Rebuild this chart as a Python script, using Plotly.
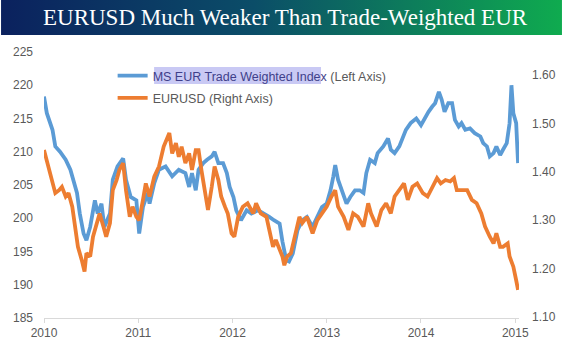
import base64
import plotly.graph_objects as go

# ---- data (decimal years) ----
idx_t = [2010.00, 2010.03, 2010.09, 2010.12, 2010.17, 2010.23, 2010.28, 2010.31, 2010.35, 2010.38,
         2010.42, 2010.45, 2010.49, 2010.54, 2010.57, 2010.61, 2010.64, 2010.70, 2010.73, 2010.78,
         2010.84, 2010.87, 2010.92, 2010.98, 2011.01, 2011.05, 2011.10, 2011.12, 2011.17, 2011.22,
         2011.27, 2011.29, 2011.36, 2011.43, 2011.50, 2011.54, 2011.57, 2011.61, 2011.64, 2011.69,
         2011.73, 2011.78, 2011.81, 2011.85, 2011.90, 2011.94, 2011.97, 2012.01, 2012.04, 2012.09,
         2012.15, 2012.20, 2012.27, 2012.34, 2012.39, 2012.44, 2012.50, 2012.53, 2012.57, 2012.60,
         2012.64, 2012.69, 2012.74, 2012.79, 2012.85, 2012.90, 2012.95, 2013.00, 2013.04, 2013.07,
         2013.09, 2013.12, 2013.16, 2013.21, 2013.25, 2013.30, 2013.35, 2013.39, 2013.42, 2013.46,
         2013.51, 2013.54, 2013.60, 2013.65, 2013.68, 2013.72, 2013.77, 2013.79, 2013.84, 2013.89,
         2013.95, 2014.00, 2014.05, 2014.08, 2014.12, 2014.15, 2014.19, 2014.22, 2014.25, 2014.29,
         2014.33, 2014.36, 2014.40, 2014.43, 2014.47, 2014.52, 2014.57, 2014.63, 2014.66, 2014.70,
         2014.73, 2014.77, 2014.80, 2014.84, 2014.87, 2014.91, 2014.94, 2014.96, 2014.98, 2015.01,
         2015.03]
idx_v = [218.3, 215.8, 213.3, 210.8, 210.0, 208.8, 207.3, 205.8, 203.8, 200.7,
         197.7, 196.7, 198.7, 202.7, 200.7, 202.2, 198.7, 200.7, 205.8, 207.8,
         209.0, 205.8, 203.2, 202.7, 197.7, 201.7, 203.8, 202.2, 205.3, 207.3,
         207.7, 207.8, 206.3, 207.3, 206.8, 204.7, 206.8, 204.2, 207.3, 208.3,
         208.8, 209.3, 210.0, 208.3, 208.3, 206.8, 204.7, 203.2, 201.2, 199.7,
         201.2, 200.7, 201.2, 200.7, 200.2, 199.7, 199.2, 196.5, 193.7, 193.5,
         194.7, 198.2, 199.7, 200.2, 198.7, 200.2, 201.7, 202.2, 204.2, 206.3,
         208.0, 205.8, 204.2, 202.2, 203.2, 204.2, 204.2, 203.8, 206.8, 208.8,
         208.3, 209.8, 210.8, 212.0, 210.3, 209.8, 210.8, 211.5, 213.3, 214.3,
         215.0, 214.0, 215.3, 216.0, 216.8, 217.3, 219.0, 217.8, 216.0, 217.3,
         217.3, 214.8, 213.8, 214.3, 213.3, 213.5, 212.8, 212.3, 211.3, 210.8,
         209.3, 209.8, 210.8, 209.5, 210.3, 211.3, 214.3, 220.0, 215.8, 214.3,
         208.3]

fx_t = [2010.00, 2010.03, 2010.05, 2010.09, 2010.12, 2010.16, 2010.19, 2010.23, 2010.26, 2010.30,
        2010.33, 2010.36, 2010.40, 2010.43, 2010.45, 2010.49, 2010.52, 2010.56, 2010.59, 2010.63,
        2010.66, 2010.70, 2010.73, 2010.77, 2010.80, 2010.84, 2010.87, 2010.91, 2010.94, 2010.98,
        2011.01, 2011.05, 2011.08, 2011.12, 2011.17, 2011.22, 2011.27, 2011.33, 2011.36, 2011.40,
        2011.43, 2011.46, 2011.50, 2011.54, 2011.57, 2011.61, 2011.64, 2011.67, 2011.71, 2011.74,
        2011.78, 2011.81, 2011.85, 2011.88, 2011.92, 2011.95, 2011.99, 2012.02, 2012.06, 2012.11,
        2012.16, 2012.22, 2012.25, 2012.30, 2012.36, 2012.39, 2012.43, 2012.46, 2012.50, 2012.53,
        2012.55, 2012.58, 2012.62, 2012.65, 2012.71, 2012.74, 2012.79, 2012.85, 2012.90, 2012.95,
        2013.00, 2013.05, 2013.09, 2013.12, 2013.18, 2013.23, 2013.28, 2013.33, 2013.39, 2013.44,
        2013.47, 2013.53, 2013.58, 2013.63, 2013.68, 2013.72, 2013.77, 2013.79, 2013.82, 2013.86,
        2013.91, 2013.96, 2014.02, 2014.07, 2014.12, 2014.17, 2014.21, 2014.26, 2014.31, 2014.35,
        2014.38, 2014.43, 2014.49, 2014.54, 2014.59, 2014.64, 2014.68, 2014.73, 2014.77, 2014.80,
        2014.84, 2014.87, 2014.92, 2014.94, 2014.98, 2015.01, 2015.03]
fx_v = [1.445, 1.424, 1.404, 1.376, 1.356, 1.362, 1.369, 1.349, 1.356, 1.328,
        1.287, 1.245, 1.218, 1.194, 1.232, 1.225, 1.266, 1.294, 1.314, 1.287,
        1.266, 1.294, 1.362, 1.383, 1.404, 1.418, 1.362, 1.307, 1.328, 1.307,
        1.300, 1.342, 1.376, 1.349, 1.390, 1.411, 1.452, 1.480, 1.438, 1.459,
        1.431, 1.452, 1.418, 1.438, 1.404, 1.445, 1.445, 1.404, 1.362, 1.321,
        1.369, 1.411, 1.383, 1.349, 1.328, 1.314, 1.273, 1.266, 1.307, 1.328,
        1.335, 1.314, 1.335, 1.314, 1.307, 1.280, 1.245, 1.259, 1.238, 1.225,
        1.207, 1.225, 1.232, 1.259, 1.307, 1.294, 1.307, 1.273, 1.300, 1.314,
        1.328, 1.349, 1.362, 1.328, 1.307, 1.280, 1.314, 1.307, 1.287, 1.335,
        1.314, 1.287, 1.321, 1.335, 1.314, 1.349, 1.362, 1.369, 1.376, 1.342,
        1.369, 1.376, 1.356, 1.349, 1.369, 1.387, 1.376, 1.383, 1.380, 1.387,
        1.362, 1.362, 1.362, 1.342, 1.335, 1.314, 1.287, 1.266, 1.252, 1.273,
        1.245, 1.245, 1.252, 1.225, 1.204, 1.176, 1.156]

year_ticks = [2010, 2011, 2012, 2013, 2014, 2015]
year_labels = ["2010", "2011", "2012", "2013", "2014", "2015"]
left_ticks = [185, 190, 195, 200, 205, 210, 215, 220, 225]
right_ticks = [1.10, 1.20, 1.30, 1.40, 1.50, 1.60]

title_text = "EURUSD Much Weaker Than Trade-Weighted EUR"
name_idx = '<span style="color:#3f3f8a">MS EUR Trade Weighted Index</span> (Left Axis)'
name_fx = "EURUSD (Right Axis)"

W, H = 568, 360
ML, MR, MT, MB = 43.5, 43.5, 52, 42
PW, PH = W - ML - MR, H - MT - MB

def px_x(p):
    return (p - ML) / PW

def px_y(p):
    return (H - MB - p) / PH

fig = go.Figure()
fig.add_trace(go.Scatter(x=idx_t, y=idx_v, mode="lines", name=name_idx, legendgroup="a",
                         line=dict(color="#5b9bd5", width=3.8)))
fig.add_trace(go.Scatter(x=fx_t, y=fx_v, mode="lines", name=name_fx, legendgroup="b",
                         line=dict(color="#ed7d31", width=3.8), yaxis="y2"))

svg = ('<svg xmlns="http://www.w3.org/2000/svg" width="568" height="35" viewBox="0 0 568 35" preserveAspectRatio="none">'
       '<defs><linearGradient id="g" x1="0" x2="1" y1="0" y2="0">'
       '<stop offset="0" stop-color="#0b215e"/><stop offset="0.45" stop-color="#0b4d68"/>'
       '<stop offset="1" stop-color="#0fab4f"/></linearGradient></defs>'
       '<rect width="568" height="35" fill="url(#g)"/></svg>')
uri = "data:image/svg+xml;base64," + base64.b64encode(svg.encode()).decode()

fig.add_layout_image(dict(source=uri, xref="paper", yref="paper",
                          x=px_x(0), y=px_y(0), sizex=W / PW, sizey=35 / PH,
                          xanchor="left", yanchor="top", sizing="stretch", layer="above"))

fig.add_annotation(text=title_text, xref="paper", yref="paper", x=px_x(288), y=px_y(17),
                   xanchor="center", yanchor="middle", showarrow=False,
                   font=dict(family="Liberation Serif, DejaVu Serif, serif", size=23, color="white"))

fig.add_shape(type="rect", xref="paper", yref="paper", x0=px_x(155), x1=px_x(324),
              y0=px_y(84), y1=px_y(67), fillcolor="#c9c9f4", line=dict(width=0), layer="below")

axis_font = dict(family="Liberation Sans, Arial, sans-serif", size=12, color="#595959")
fig.update_layout(
    width=W, height=H,
    margin=dict(l=ML, r=MR, t=MT, b=MB, pad=0),
    paper_bgcolor="white", plot_bgcolor="white",
    showlegend=True,
    hovermode=False,
    legend=dict(x=px_x(113), y=px_y(61), xanchor="left", yanchor="top",
                bgcolor="rgba(0,0,0,0)", font=dict(family="Liberation Sans, Arial, sans-serif",
                                                   size=12.5, color="#595959"),
                tracegroupgap=3, itemwidth=30),
    xaxis=dict(range=[2010, 2015.04], tickvals=year_ticks, ticktext=year_labels,
               showgrid=False, zeroline=False, showline=True, linecolor="#d9d9d9", linewidth=1,
               ticks="outside", ticklen=4, tickcolor="#d9d9d9", tickfont=axis_font),
    yaxis=dict(range=[185, 225], tickvals=left_ticks, showgrid=False, zeroline=False,
               showline=False, ticks="", tickfont=axis_font, ticklabelstandoff=10),
    yaxis2=dict(range=[1.098, 1.6475], tickvals=right_ticks, tickformat=".2f", overlaying="y",
                side="right", showgrid=False, zeroline=False, showline=False, ticks="",
                tickfont=axis_font, ticklabelstandoff=12),
)

fig.write_html("out.html", config={"displayModeBar": False, "staticPlot": True},
               post_script="document.body.style.margin='0';document.body.style.padding='0';")
